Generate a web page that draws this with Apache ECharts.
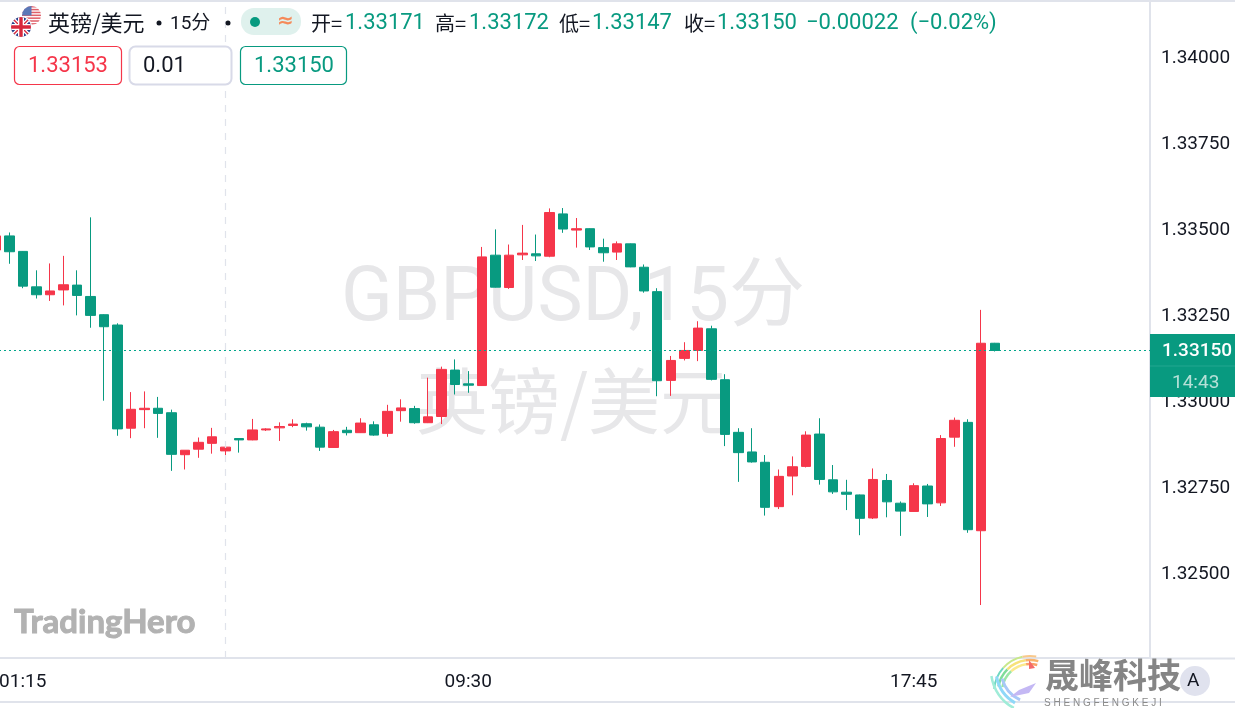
<!DOCTYPE html>
<html>
<head>
<meta charset="utf-8">
<title>GBPUSD</title>
<style>
  html, body { margin: 0; padding: 0; background: #fff; }
  #main { width: 1235px; height: 708px; }
</style>
<script src="https://cdn.jsdelivr.net/npm/echarts@6/dist/echarts.min.js"></script>
</head>
<body>
<div id="main"></div>
<script>
// 开 收 低 高
var opens = [1.33442,1.33483,1.33438,1.33335,1.33312,1.33326,1.33340,1.33307,1.33254,1.33224,
  1.32924,1.32978,1.32982,1.32969,1.32847,1.32863,1.32880,1.32858,1.32894,1.32890,
  1.32919,1.32925,1.32932,1.32937,1.32927,1.32868,1.32918,1.32911,1.32934,1.32909,
  1.32975,1.32981,1.32940,1.32958,1.33093,1.33053,1.33048,1.33427,1.33333,1.33428,
  1.33431,1.33424,1.33547,1.33500,1.33504,1.33449,1.33436,1.33460,1.33392,1.33321,
  1.33063,1.33127,1.33150,1.33213,1.33065,1.32912,1.32855,1.32825,1.32696,1.32785,
  1.32813,1.32907,1.32774,1.32738,1.32730,1.32663,1.32772,1.32706,1.32682,1.32756,
  1.32707,1.32898,1.32941,1.32626,1.33171];
var closes = [1.33483,1.33437,1.33337,1.33312,1.33323,1.33341,1.33310,1.33252,1.33219,1.32922,
  1.32979,1.32982,1.32967,1.32848,1.32860,1.32883,1.32899,1.32869,1.32890,1.32919,
  1.32922,1.32929,1.32936,1.32928,1.32869,1.32914,1.32911,1.32939,1.32904,1.32973,
  1.32983,1.32940,1.32957,1.33095,1.33051,1.33049,1.33422,1.33334,1.33427,1.33433,
  1.33425,1.33551,1.33503,1.33504,1.33451,1.33434,1.33460,1.33393,1.33323,1.33062,
  1.33121,1.33150,1.33215,1.33066,1.32906,1.32853,1.32826,1.32694,1.32784,1.32812,
  1.32904,1.32775,1.32739,1.32732,1.32662,1.32775,1.32710,1.32683,1.32757,1.32704,
  1.32894,1.32947,1.32629,1.33171,1.33150];
var lows = [1.33439,1.33402,1.33331,1.33301,1.33294,1.33281,1.33252,1.33216,1.33004,1.32902,
  1.32895,1.32924,1.32896,1.32800,1.32804,1.32838,1.32850,1.32831,1.32853,1.32889,
  1.32916,1.32887,1.32927,1.32917,1.32858,1.32867,1.32903,1.32910,1.32902,1.32899,
  1.32943,1.32937,1.32939,1.32936,1.33022,1.33027,1.33047,1.33333,1.33329,1.33413,
  1.33410,1.33421,1.33492,1.33449,1.33442,1.33408,1.33413,1.33392,1.33318,1.33017,
  1.33018,1.33121,1.33119,1.33063,1.32872,1.32768,1.32824,1.32670,1.32689,1.32729,
  1.32810,1.32760,1.32733,1.32686,1.32613,1.32660,1.32665,1.32611,1.32681,1.32666,
  1.32698,1.32870,1.32620,1.32410,1.33147];
var highs = [1.33488,1.33493,1.33439,1.33383,1.33403,1.33425,1.33383,1.33537,1.33255,1.33229,
  1.33029,1.33031,1.33015,1.32978,1.32860,1.32897,1.32925,1.32874,1.32895,1.32951,
  1.32924,1.32941,1.32950,1.32940,1.32935,1.32919,1.32928,1.32953,1.32944,1.32992,
  1.33008,1.32989,1.33071,1.33103,1.33124,1.33090,1.33451,1.33502,1.33458,1.33515,
  1.33487,1.33563,1.33564,1.33535,1.33505,1.33475,1.33467,1.33461,1.33400,1.33331,
  1.33134,1.33174,1.33235,1.33222,1.33081,1.32924,1.32924,1.32846,1.32804,1.32842,
  1.32915,1.32953,1.32817,1.32774,1.32731,1.32807,1.32791,1.32711,1.32764,1.32762,
  1.32904,1.32955,1.32950,1.33268,1.33172];

var yTickLabels = [1.325, 1.3275, 1.33, 1.3325, 1.335, 1.3375, 1.34];
var xTickLabels = ['01:15', '09:30', '17:45'];
var crosshairTime = '05:00';
var lastPrice = 1.3315;

// 时间轴 每根15分钟，从00:45开始，右边留空白
var categories = [];
for (var m = 45; categories.length < 86; m += 15) {
  var hh = Math.floor(m / 60) % 24, mm = m % 60;
  categories.push((hh < 10 ? '0' : '') + hh + ':' + (mm < 10 ? '0' : '') + mm);
}

var RED = '#f5364a', GREEN = '#089a80', LINE = '#e0e3eb', NUM = 'Roboto', CJK = '"Noto Sans CJK SC"';

function svgUri(s) { return 'data:image/svg+xml;charset=utf-8,' + encodeURIComponent(s); }

var usFlag = svgUri('<svg xmlns="http://www.w3.org/2000/svg" width="40" height="40" viewBox="0 0 20 20"><defs><clipPath id="c"><circle cx="10" cy="10" r="10"/></clipPath></defs><g clip-path="url(#c)"><rect width="20" height="20" fill="#fff"/>' +
  [0, 3, 6, 9, 12, 15, 18].map(function (y) { return '<rect y="' + y + '" width="20" height="1.6" fill="#e0606a"/>'; }).join('') +
  '<rect width="10" height="10" fill="#5a78b8"/></g></svg>');
var ukFlag = svgUri('<svg xmlns="http://www.w3.org/2000/svg" width="44" height="44" viewBox="0 0 22 22"><circle cx="11" cy="11" r="11" fill="#fff"/><defs><clipPath id="c"><circle cx="11" cy="11" r="10"/></clipPath></defs><g clip-path="url(#c)"><rect width="22" height="22" fill="#27408b"/><path d="M0 0L22 22M22 0L0 22" stroke="#fff" stroke-width="4"/><path d="M0 0L22 22M22 0L0 22" stroke="#d8283c" stroke-width="1.4"/><path d="M11 0V22M0 11H22" stroke="#fff" stroke-width="6"/><path d="M11 0V22M0 11H22" stroke="#d8283c" stroke-width="3.4"/></g></svg>');

function txt(x, y, s, color, size, font, extra) {
  var st = { x: x, y: y, text: s, fill: color, fontSize: size, fontFamily: font || NUM, verticalAlign: 'middle' };
  for (var k in (extra || {})) st[k] = extra[k];
  return { type: 'text', z: 20, silent: true, style: st };
}
function box(x, y, w, h, fill, stroke, lw, r, z) {
  return { type: 'rect', z: z || 15, silent: true, shape: { x: x, y: y, width: w, height: h, r: r || 0 }, style: { fill: fill, stroke: stroke, lineWidth: lw || 0 } };
}
function seg(x1, y1, x2, y2, color, z) {
  return { type: 'line', z: z || 5, silent: true, shape: { x1: x1, y1: y1, x2: x2, y2: y2 }, style: { stroke: color || LINE, lineWidth: color ? 1 : 2 } };
}
function dot(cx, cy, r, color) {
  return { type: 'circle', z: 18, silent: true, shape: { cx: cx, cy: cy, r: r }, style: { fill: color } };
}
function arc(cx, cy, r, a0, a1, color, lw) {
  return { type: 'arc', z: 18, silent: true, shape: { cx: cx, cy: cy, r: r, startAngle: a0 * Math.PI / 180, endAngle: a1 * Math.PI / 180, clockwise: true },
    style: { stroke: color, lineWidth: lw, fill: null } };
}

var graphics = [
  // 水印
  { type: 'text', z: 0, silent: true, style: { x: 573, y: 301, text: 'GBPUSD,15分', fill: '#e7e7e9', fontSize: 76, fontFamily: NUM + ',' + CJK, align: 'center', verticalAlign: 'middle' } },
  { type: 'text', z: 0, silent: true, style: { x: 574, y: 401, text: '英镑/美元', fill: '#e7e7e9', fontSize: 72, fontFamily: CJK, align: 'center', verticalAlign: 'middle' } },
  { type: 'text', z: 0, silent: true, style: { x: 14, y: 622, text: 'TradingHero', fill: '#b2b2b2', stroke: '#b2b2b2', lineWidth: 1, fontSize: 33, fontWeight: 'bold', fontFamily: 'Lato', verticalAlign: 'middle' } },
  // 边框
  seg(0, 1, 1235, 1), seg(1150, 658.5, 1235, 658.5), seg(0, 702, 1235, 702),
  // 标题行
  { type: 'image', z: 16, silent: true, style: { image: usFlag, x: 22, y: 6, width: 19, height: 19 } },
  { type: 'image', z: 17, silent: true, style: { image: ukFlag, x: 10, y: 16, width: 22, height: 22 } },
  txt(48, 23, '英镑/美元', '#131722', 22, CJK),
  dot(159, 23, 2.5, '#131722'),
  txt(170, 24, '15分', '#131722', 19, NUM + ',' + CJK),
  dot(228, 23, 2.5, '#131722'),
  box(241, 8, 60, 27, '#dff1ed', null, 0, 13),
  dot(255, 22, 5, GREEN),
  txt(277, 22, '≈', '#f58a5a', 20, 'DejaVu Sans', { fontWeight: 'bold' }),
  txt(311, 23, '开=', '#131722', 20, CJK),
  txt(345, 23, '1.33171', GREEN, 22),
  txt(435, 23, '高=', '#131722', 20, CJK),
  txt(469, 23, '1.33172', GREEN, 22),
  txt(559, 23, '低=', '#131722', 20, CJK),
  txt(592, 23, '1.33147', GREEN, 22),
  txt(684, 23, '收=', '#131722', 20, CJK),
  txt(717, 23, '1.33150', GREEN, 22),
  txt(806, 23, '−0.00022', GREEN, 22),
  txt(910, 23, '(−0.02%)', GREEN, 22),
  // 下单框
  box(14.5, 46.5, 107, 38, '#fff', RED, 1.2, 5),
  txt(28, 66, '1.33153', RED, 22),
  box(129.5, 46.5, 102, 38, '#fff', '#d8dae8', 2, 6),
  txt(143, 66, '0.01', '#131722', 22),
  box(240.5, 46.5, 106, 38, '#fff', GREEN, 1.2, 5),
  txt(254, 66, '1.33150', GREEN, 22),
  // 右侧价格标签
  box(1150, 334, 85, 63, GREEN, null, 0, 0, 15),
  seg(1150, 366, 1235, 366, '#22a690', 16),
  txt(1162, 351, '1.33150', '#fff', 19, NUM, { fontWeight: 500 }),
  txt(1172, 383, '14:43', '#b6e0d7', 19),
  // 角标
  { type: 'circle', z: 16, silent: true, shape: { cx: 1195, cy: 681, r: 15 }, style: { fill: '#e0e2ee' } },
  txt(1187, 681, 'A', '#131722', 19),
  txt(1045, 675, '晟峰科技', '#858585', 34, CJK, { fontWeight: 'bold' }),
  txt(1044, 703, 'S H E N G F E N G K E J I', '#8a8a8a', 10, 'Liberation Sans'),
  // logo
  arc(1030, 692, 32, 190, 225, '#7fdc9a', 2.5), arc(1030, 692, 32, 225, 262, '#f7e27a', 2.5), arc(1030, 692, 32, 262, 285, '#f9b36b', 2.5),
  arc(1030, 692, 28, 190, 228, '#9ae6a6', 2.5), arc(1030, 692, 28, 228, 262, '#fbe98c', 2.5), arc(1030, 692, 28, 262, 285, '#f9a268', 2.5),
  arc(1030, 692, 36, 185, 222, '#6fd8c0', 2), arc(1030, 692, 36, 222, 258, '#c8e88a', 2), arc(1030, 692, 36, 258, 280, '#f9c88a', 2),
  arc(1034, 670, 38, 120, 170, '#8fd8f8', 3), arc(1034, 670, 33, 115, 165, '#a8c8f8', 3), arc(1034, 670, 43, 118, 172, '#a0ecd8', 2.5),
  { type: 'polygon', z: 18, silent: true, shape: { points: [[1019, 690], [1036, 683], [1029, 693], [1010, 697]] }, style: { fill: '#c4b8f4' } },
  { type: 'polygon', z: 18, silent: true, shape: { points: [[1029, 660], [1035, 668], [1029, 669]] }, style: { fill: '#f56a6a' } }
];

var option = {
  animation: false,
  backgroundColor: '#fff',
  grid: { left: -11, right: 85, top: 2, bottom: 50, outerBoundsMode: 'none' },
  xAxis: {
    type: 'category',
    data: categories,
    boundaryGap: true,
    axisLine: { show: true, lineStyle: { color: LINE, width: 2 } },
    axisTick: { show: false },
    splitLine: { show: false },
    axisLabel: {
      color: '#131722', fontSize: 19, fontFamily: NUM, margin: 15,
      interval: function (i, v) { return xTickLabels.indexOf(v) >= 0; }
    }
  },
  yAxis: {
    type: 'value',
    position: 'right',
    min: 1.32256,
    max: 1.34163,
    scale: true,
    axisLine: { show: true, lineStyle: { color: LINE, width: 2 } },
    axisTick: { show: false },
    splitLine: { show: false },
    axisLabel: {
      color: '#131722', fontSize: 19, fontFamily: NUM, margin: 11,
      padding: [4, 0, 0, 0],
      customValues: yTickLabels,
      formatter: function (v) { return v.toFixed(5); }
    }
  },
  series: [{
    type: 'candlestick',
    barWidth: 10,
    z: 3,
    itemStyle: { color: RED, color0: GREEN, borderColor: RED, borderColor0: GREEN, borderWidth: 1 },
    data: opens.map(function (o, i) { return [o, closes[i], lows[i], highs[i]]; }),
    markLine: {
      silent: true,
      symbol: 'none',
      precision: 5,
      label: { show: false },
      animation: false,
      data: [
        { xAxis: crosshairTime, lineStyle: { color: '#e0e3eb', type: [7, 7], width: 1.2 } },
        { yAxis: lastPrice, lineStyle: { color: '#00a68a', type: [2, 3], width: 1, opacity: 1 } }
      ]
    }
  }],
  graphic: { elements: graphics }
};

var chart = echarts.init(document.getElementById('main'), null, { renderer: 'canvas' });
chart.setOption(option);
</script>
</body>
</html>
